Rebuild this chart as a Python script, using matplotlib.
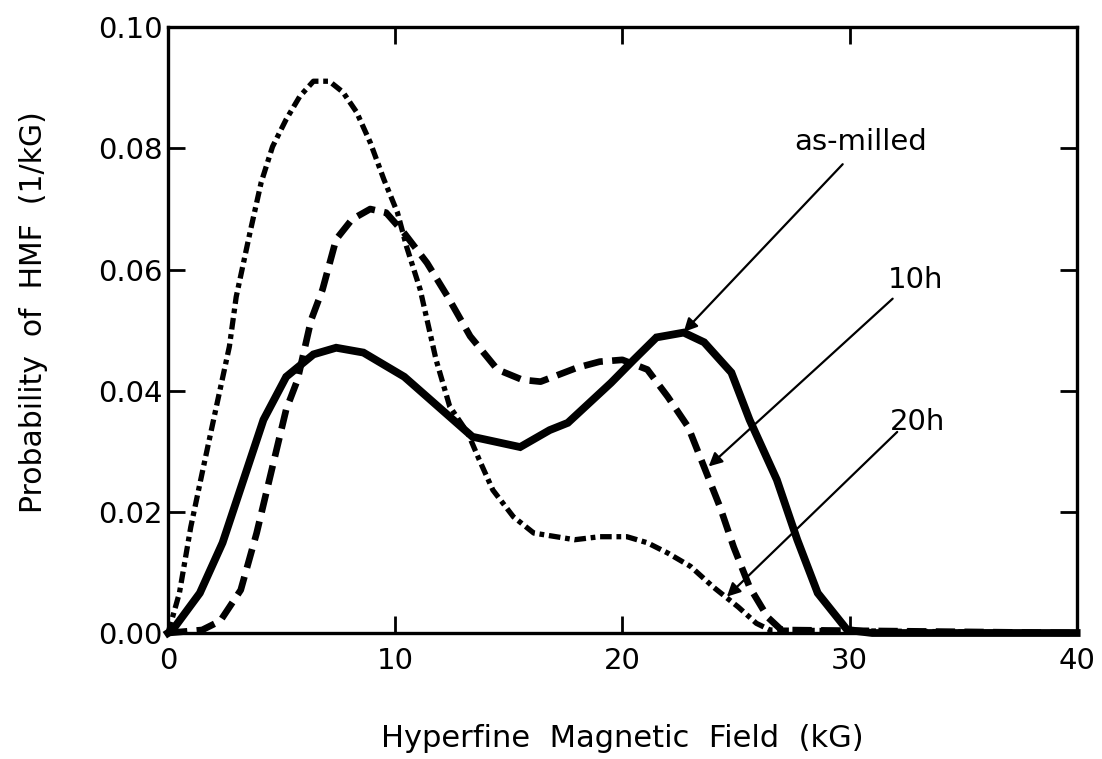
import matplotlib
matplotlib.use("Agg")
import matplotlib.pyplot as plt

plt.rcParams["font.family"] = ["DejaVu Sans"]

# as-milled (solid)
x_milled = [0.0, 0.2, 1.4, 2.4, 4.2, 5.2, 6.4, 7.4, 8.6, 10.4, 13.4, 15.5, 16.8,
            17.6, 19.5, 20.5, 21.5, 22.7, 23.6, 24.8, 25.6, 26.8, 27.7, 28.6, 29.9, 31.0, 40.0]
y_milled = [0.0, 0.0005, 0.0066, 0.0149, 0.0352, 0.0423, 0.0460, 0.0471, 0.0463, 0.0423, 0.0324,
            0.0307, 0.0335, 0.0347, 0.0413, 0.0451, 0.0488, 0.0496, 0.0480, 0.0430, 0.0352,
            0.0253, 0.0154, 0.0066, 0.0005, 0.0, 0.0]

# 10h (dashed)
x_10h = [0.0, 1.5, 2.3, 3.2, 3.9, 4.6, 5.2, 5.7, 6.3, 6.8, 7.4, 8.1, 8.9, 9.6, 10.4,
         11.4, 12.3, 13.3, 14.5, 15.6, 16.4, 18.0, 19.0, 20.0, 21.1, 22.0, 22.9, 23.6,
         24.3, 24.9, 25.6, 26.4, 27.0, 40.0]
y_10h = [0.0, 0.0005, 0.0020, 0.0071, 0.0165, 0.0275, 0.0369, 0.0418, 0.0517, 0.0567,
         0.0650, 0.0683, 0.0700, 0.0694, 0.0660, 0.0611, 0.0556, 0.0490, 0.0435, 0.0418,
         0.0415, 0.0438, 0.0448, 0.0451, 0.0435, 0.0390, 0.0340, 0.0274, 0.0208, 0.0142,
         0.0076, 0.0026, 0.0005, 0.0]

# 20h (dash-dot)
x_20h = [0.0, 0.5, 1.0, 1.5, 2.1, 2.7, 3.0, 3.6, 4.1, 4.6, 5.2, 5.8, 6.4, 7.1, 7.7, 8.3,
         8.9, 9.5, 10.1, 10.5, 11.1, 11.8, 12.4, 13.2, 13.7, 14.3, 15.2, 16.1, 17.9, 19.0,
         20.2, 21.1, 22.0, 23.0, 24.0, 25.1, 25.9, 26.5, 40.0]
y_20h = [0.0, 0.0066, 0.0175, 0.0264, 0.0369, 0.0473, 0.0555, 0.0660, 0.0744, 0.0803,
         0.0848, 0.0886, 0.0911, 0.0911, 0.0893, 0.0860, 0.0810, 0.0749, 0.0694, 0.0638,
         0.0567, 0.0451, 0.0374, 0.0330, 0.0286, 0.0236, 0.0192, 0.0165, 0.0154, 0.0159,
         0.0159, 0.0149, 0.0132, 0.0110, 0.0076, 0.0043, 0.0016, 0.0005, 0.0]

# labels: (text, text x, text y, arrow start x, arrow start y, arrow tip x, arrow tip y)
notes = [
    ("as-milled", 30.5, 0.0810, 29.7, 0.0774, 22.7, 0.0497),
    ("10h",       32.9, 0.0583, 31.9, 0.0552, 23.8, 0.0275),
    ("20h",       33.0, 0.0349, 32.1, 0.0332, 24.6, 0.0060),
]

fig = plt.figure(figsize=(11.02, 7.59), dpi=100)
ax = fig.add_axes([0.1525, 0.166, 0.8245, 0.798])

ax.plot(x_20h, y_20h, color="k", lw=3.8, dashes=(2.2, 0.9, 0.9, 0.9), clip_on=False)
ax.plot(x_10h, y_10h, color="k", lw=4.8, dashes=(2.9, 1.4), clip_on=False)
ax.plot(x_milled, y_milled, color="k", lw=5.6, solid_joinstyle="miter", clip_on=False)

for txt, tx, ty, sx, sy, hx, hy in notes:
    ax.text(tx, ty, txt, fontsize=21, ha="center", va="center")
    ax.annotate("", xy=(hx, hy), xytext=(sx, sy),
                arrowprops=dict(arrowstyle="-|>", color="k", lw=1.6,
                                mutation_scale=20, shrinkA=0, shrinkB=0))

ax.set_xlim(0, 40)
ax.set_ylim(0, 0.10)
ax.set_xticks([0, 10, 20, 30, 40])
ax.set_yticks([0.0, 0.02, 0.04, 0.06, 0.08, 0.10])
ax.set_yticklabels(["0.00", "0.02", "0.04", "0.06", "0.08", "0.10"])
ax.tick_params(direction="in", length=12, width=2, labelsize=21,
               top=True, right=True)
ax.tick_params(axis="x", pad=10)
ax.tick_params(axis="y", pad=4)
for s in ax.spines.values():
    s.set_linewidth(2.4)

ax.set_xlabel("Hyperfine  Magnetic  Field  (kG)", fontsize=22, labelpad=35)
ax.set_ylabel("Probability  of  HMF  (1/kG)", fontsize=21.5)
ax.yaxis.set_label_coords(-0.132, 0.53)

fig.savefig("out.png", dpi=100)
